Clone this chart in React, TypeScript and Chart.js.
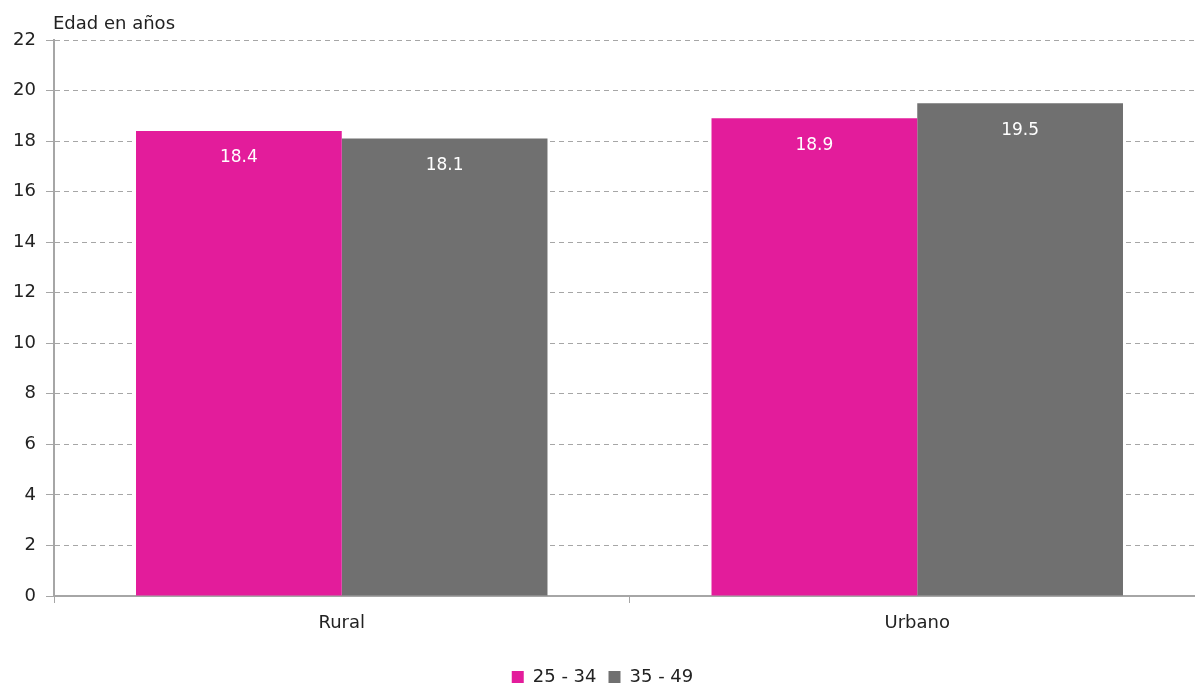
import React, { useEffect, useRef } from "react";
import { Chart, registerables } from "chart.js";

Chart.register(...registerables);

const categories = ["Rural", "Urbano"];
const seriesNames = ["25 - 34", "35 - 49"];
const series1 = [18.4, 18.9];
const series2 = [18.1, 19.5];
const yTicks = [0, 2, 4, 6, 8, 10, 12, 14, 16, 18, 20, 22];
const yTitle = "Edad en años";

const FONT = "'DejaVu Sans', sans-serif";
const PINK = "#E31C9B";
const GREY = "#707070";

const barLabels = {
  id: "barLabels",
  afterDatasetsDraw(chart: any) {
    const ctx = chart.ctx;
    ctx.save();
    ctx.fillStyle = "#ffffff";
    ctx.font = `17px ${FONT}`;
    ctx.textAlign = "center";
    ctx.textBaseline = "middle";
    chart.data.datasets.forEach((ds: any, i: number) => {
      const meta = chart.getDatasetMeta(i);
      meta.data.forEach((bar: any, j: number) => {
        ctx.fillText(Number(ds.data[j]).toFixed(1), bar.x, bar.y + 27);
      });
    });
    ctx.restore();
  },
};

const axisTitle = {
  id: "axisTitle",
  afterDraw(chart: any) {
    const ctx = chart.ctx;
    ctx.save();
    ctx.fillStyle = "#222222";
    ctx.font = `18px ${FONT}`;
    ctx.textAlign = "left";
    ctx.textBaseline = "middle";
    ctx.fillText(yTitle, chart.chartArea.left - 1, 24);
    ctx.restore();
  },
};

export default function App() {
  const ref = useRef<HTMLCanvasElement>(null);
  useEffect(() => {
    if (!ref.current) return;
    const c2d: any = ref.current.getContext("2d");
    if (c2d && "letterSpacing" in c2d) c2d.letterSpacing = "0.6px";
    const chart = new Chart(ref.current, {
      type: "bar",
      data: {
        labels: categories,
        datasets: [
          { label: seriesNames[0], data: series1, backgroundColor: PINK, categoryPercentage: 0.715, barPercentage: 1 },
          { label: seriesNames[1], data: series2, backgroundColor: GREY, categoryPercentage: 0.715, barPercentage: 1 },
        ],
      },
      options: {
        animation: false,
        responsive: false,
        maintainAspectRatio: false,
        layout: { padding: { top: 40, right: 0, left: 0, bottom: -11 } },
        plugins: {
          legend: {
            position: "bottom",
            labels: {
              font: { family: FONT, size: 18 },
              color: "#222222",
              boxWidth: 12,
              boxHeight: 12,
              padding: 12,
            },
          },
          tooltip: { enabled: false },
        },
        scales: {
          x: {
            grid: { drawOnChartArea: false, drawTicks: true, tickLength: 7, color: "#a6a6a6" },
            border: { color: "#a6a6a6", width: 2 },
            ticks: { font: { family: FONT, size: 18 }, color: "#222222", padding: 10 },
            afterFit(scale: any) {
              scale.height = 60;
            },
          },
          y: {
            min: 0,
            max: 22,
            afterBuildTicks(scale: any) {
              scale.ticks = yTicks.map((v) => ({ value: v }));
            },
            grid: { color: "#a6a6a6", lineWidth: 1, tickLength: 8 },
            border: { color: "#a6a6a6", width: 2, dash: [5, 4] as any },
            ticks: { font: { family: FONT, size: 18 }, color: "#222222", padding: 10 },
            afterFit(scale: any) {
              scale.width = 54;
            },
          },
        },
      },
      plugins: [barLabels, axisTitle],
    });
    return () => chart.destroy();
  }, []);
  return (
    <div style={{ position: "fixed", left: 0, top: 0, width: 1195, height: 685, overflow: "hidden", background: "#fff" }}>
      <canvas ref={ref} width={1205} height={685} style={{ display: "block" }} />
    </div>
  );
}
